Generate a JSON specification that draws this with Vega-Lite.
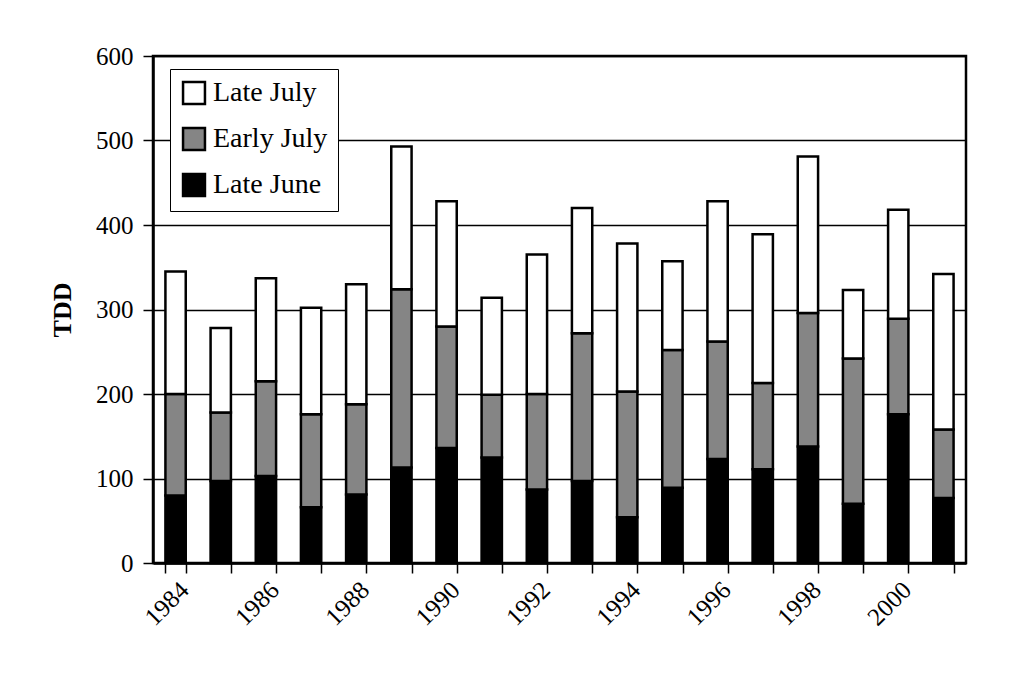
{
  "$schema": "https://vega.github.io/schema/vega-lite/v6.json",
  "width": 813,
  "height": 507,
  "autosize": {"type": "none"},
  "padding": {"left": 153, "top": 56, "right": 46, "bottom": 110},
  "background": "white",
  "datasets": {
    "tdd": [
      {"year": 1984, "period": "Late June", "tdd": 80}, {"year": 1984, "period": "Early July", "tdd": 120}, {"year": 1984, "period": "Late July", "tdd": 145},
      {"year": 1985, "period": "Late June", "tdd": 97}, {"year": 1985, "period": "Early July", "tdd": 81}, {"year": 1985, "period": "Late July", "tdd": 100},
      {"year": 1986, "period": "Late June", "tdd": 103}, {"year": 1986, "period": "Early July", "tdd": 112}, {"year": 1986, "period": "Late July", "tdd": 122},
      {"year": 1987, "period": "Late June", "tdd": 66}, {"year": 1987, "period": "Early July", "tdd": 110}, {"year": 1987, "period": "Late July", "tdd": 126},
      {"year": 1988, "period": "Late June", "tdd": 81}, {"year": 1988, "period": "Early July", "tdd": 107}, {"year": 1988, "period": "Late July", "tdd": 142},
      {"year": 1989, "period": "Late June", "tdd": 113}, {"year": 1989, "period": "Early July", "tdd": 211}, {"year": 1989, "period": "Late July", "tdd": 169},
      {"year": 1990, "period": "Late June", "tdd": 136}, {"year": 1990, "period": "Early July", "tdd": 144}, {"year": 1990, "period": "Late July", "tdd": 148},
      {"year": 1991, "period": "Late June", "tdd": 125}, {"year": 1991, "period": "Early July", "tdd": 74}, {"year": 1991, "period": "Late July", "tdd": 115},
      {"year": 1992, "period": "Late June", "tdd": 87}, {"year": 1992, "period": "Early July", "tdd": 113}, {"year": 1992, "period": "Late July", "tdd": 165},
      {"year": 1993, "period": "Late June", "tdd": 97}, {"year": 1993, "period": "Early July", "tdd": 175}, {"year": 1993, "period": "Late July", "tdd": 148},
      {"year": 1994, "period": "Late June", "tdd": 54}, {"year": 1994, "period": "Early July", "tdd": 149}, {"year": 1994, "period": "Late July", "tdd": 175},
      {"year": 1995, "period": "Late June", "tdd": 89}, {"year": 1995, "period": "Early July", "tdd": 163}, {"year": 1995, "period": "Late July", "tdd": 105},
      {"year": 1996, "period": "Late June", "tdd": 123}, {"year": 1996, "period": "Early July", "tdd": 139}, {"year": 1996, "period": "Late July", "tdd": 166},
      {"year": 1997, "period": "Late June", "tdd": 111}, {"year": 1997, "period": "Early July", "tdd": 102}, {"year": 1997, "period": "Late July", "tdd": 176},
      {"year": 1998, "period": "Late June", "tdd": 138}, {"year": 1998, "period": "Early July", "tdd": 158}, {"year": 1998, "period": "Late July", "tdd": 185},
      {"year": 1999, "period": "Late June", "tdd": 70}, {"year": 1999, "period": "Early July", "tdd": 172}, {"year": 1999, "period": "Late July", "tdd": 81},
      {"year": 2000, "period": "Late June", "tdd": 176}, {"year": 2000, "period": "Early July", "tdd": 113}, {"year": 2000, "period": "Late July", "tdd": 129},
      {"year": 2001, "period": "Late June", "tdd": 77}, {"year": 2001, "period": "Early July", "tdd": 81}, {"year": 2001, "period": "Late July", "tdd": 184}
    ]
  },
  "data": {"name": "tdd"},
  "transform": [
    {"calculate": "indexof(['Late June', 'Early July', 'Late July'], datum.period)", "as": "stackOrder"}
  ],
  "mark": {"type": "bar", "stroke": "black", "strokeWidth": 2.5, "strokeJoin": "miter"},
  "encoding": {
    "x": {
      "field": "year",
      "type": "ordinal",
      "scale": {"paddingInner": 0.55, "paddingOuter": 0.275},
      "axis": {
        "title": null,
        "labelAngle": -45,
        "labelExpr": "datum.value % 2 == 0 ? datum.label : ''",
        "tickBand": "extent",
        "tickSize": 10,
        "labelPadding": 4,
        "grid": false
      }
    },
    "y": {
      "field": "tdd",
      "type": "quantitative",
      "aggregate": "sum",
      "stack": "zero",
      "scale": {"domain": [0, 600]},
      "axis": {
        "title": "TDD",
        "values": [0, 100, 200, 300, 400, 500, 600],
        "grid": true,
        "tickSize": 10,
        "labelPadding": 10,
        "titlePadding": 20
      }
    },
    "color": {
      "field": "period",
      "type": "nominal",
      "scale": {
        "domain": ["Late July", "Early July", "Late June"],
        "range": ["white", "#858585", "black"]
      },
      "legend": {
        "title": null,
        "orient": "none",
        "legendX": 17,
        "legendY": 13,
        "symbolType": "square",
        "symbolSize": 480,
        "symbolStrokeColor": "black",
        "symbolStrokeWidth": 2.5,
        "symbolOpacity": 1,
        "labelFont": "Liberation Serif",
        "labelFontSize": 28,
        "labelColor": "black",
        "labelOffset": 5,
        "rowPadding": 14,
        "padding": 10,
        "strokeColor": "black",
        "fillColor": "white"
      }
    },
    "order": {"field": "stackOrder", "type": "quantitative"}
  },
  "config": {
    "view": {"stroke": "black", "strokeWidth": 2.5},
    "axis": {
      "labelFont": "Liberation Serif",
      "labelFontSize": 25,
      "labelColor": "black",
      "titleFont": "Liberation Serif",
      "titleFontSize": 26,
      "titleFontWeight": "bold",
      "titleColor": "black",
      "domainColor": "black",
      "domainWidth": 2.5,
      "tickColor": "black",
      "tickWidth": 1.5,
      "gridColor": "black",
      "gridWidth": 1.5,
      "gridOpacity": 1
    }
  }
}
